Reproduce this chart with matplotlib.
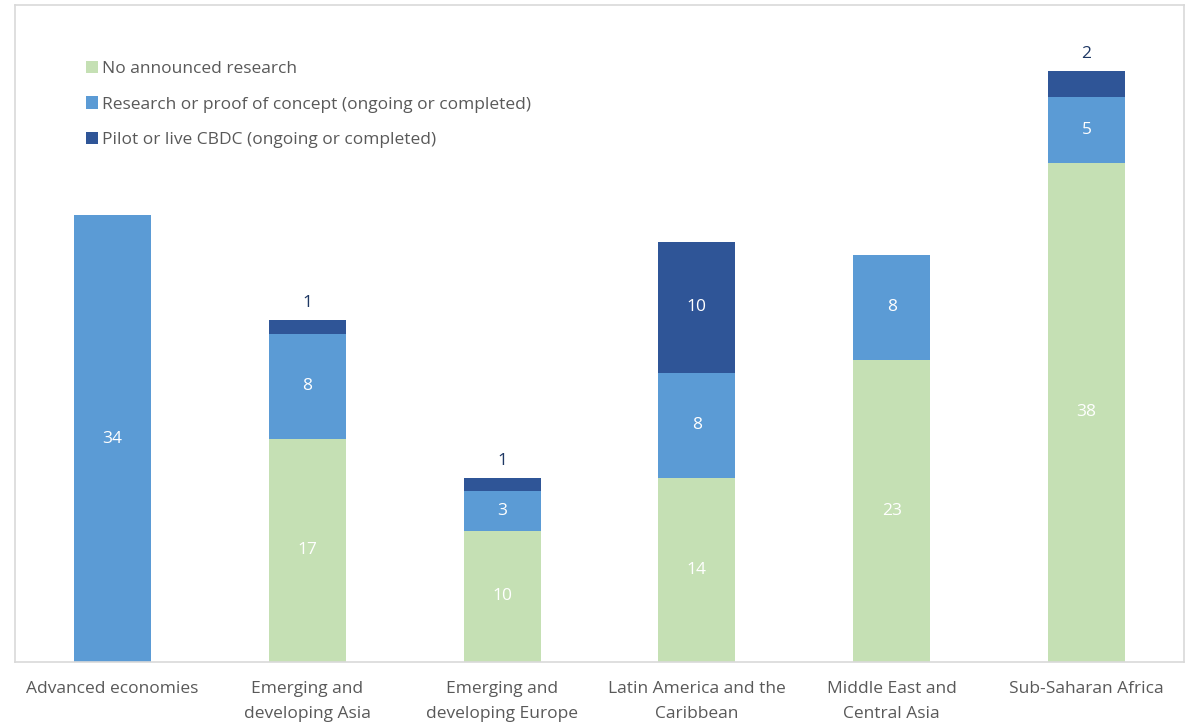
import matplotlib
matplotlib.use("Agg")
import matplotlib.pyplot as plt
import numpy as np

categories = ["Advanced economies", "Emerging and\ndeveloping Asia", "Emerging and\ndeveloping Europe",
              "Latin America and the\nCaribbean", "Middle East and\nCentral Asia", "Sub-Saharan Africa"]
no_research = [0, 17, 10, 14, 23, 38]
research = [34, 8, 3, 8, 8, 5]
pilot = [0, 1, 1, 10, 0, 2]
series_names = ["No announced research", "Research or proof of concept (ongoing or completed)",
                "Pilot or live CBDC (ongoing or completed)"]
colors = ["#C5E0B4", "#5B9BD5", "#2F5597"]

plt.rcParams['font.family'] = ['Open Sans', 'DejaVu Sans']

fig = plt.figure(figsize=(11.86, 7.24), dpi=100)
ax = fig.add_axes([15/1186, 1-662/724, 1169/1186, 657/724])

x = np.arange(len(categories))
w = 0.395
series = [no_research, research, pilot]
bottom = np.zeros(len(categories))
for si, (vals, col, name) in enumerate(zip(series, colors, series_names)):
    vals = np.array(vals, dtype=float)
    ax.bar(x, vals, w, bottom=bottom, color=col, label=name, zorder=2)
    for i, v in enumerate(vals):
        if v <= 0:
            continue
        if si == 2 and v < 3:
            ax.text(x[i], bottom[i] + v + 1.3, f"{int(v)}", ha="center", va="center",
                    color="#1F3864", fontsize=12.5)
        else:
            ax.text(x[i], bottom[i] + v / 2, f"{int(v)}", ha="center", va="center",
                    color="white", fontsize=12.5)
    bottom += vals

ax.set_xlim(-0.5, len(categories) - 0.5)
ax.set_ylim(0, 50)
ax.set_yticks([])
ax.set_xticks(x)
ax.set_xticklabels(categories, fontsize=12.5, color="#595959", linespacing=1.68)
ax.tick_params(axis="x", length=0, pad=14)
for s in ax.spines.values():
    s.set_color("#D9D9D9")
    s.set_linewidth(1.2)

leg = ax.legend(loc="upper left", bbox_to_anchor=(0.055, 0.925), frameon=False,
                fontsize=12.5, handlelength=0.7, handleheight=0.7, handletextpad=0.2,
                labelspacing=1.1, borderaxespad=0)
for t in leg.get_texts():
    t.set_color("#595959")

fig.savefig("out.png", dpi=100)
